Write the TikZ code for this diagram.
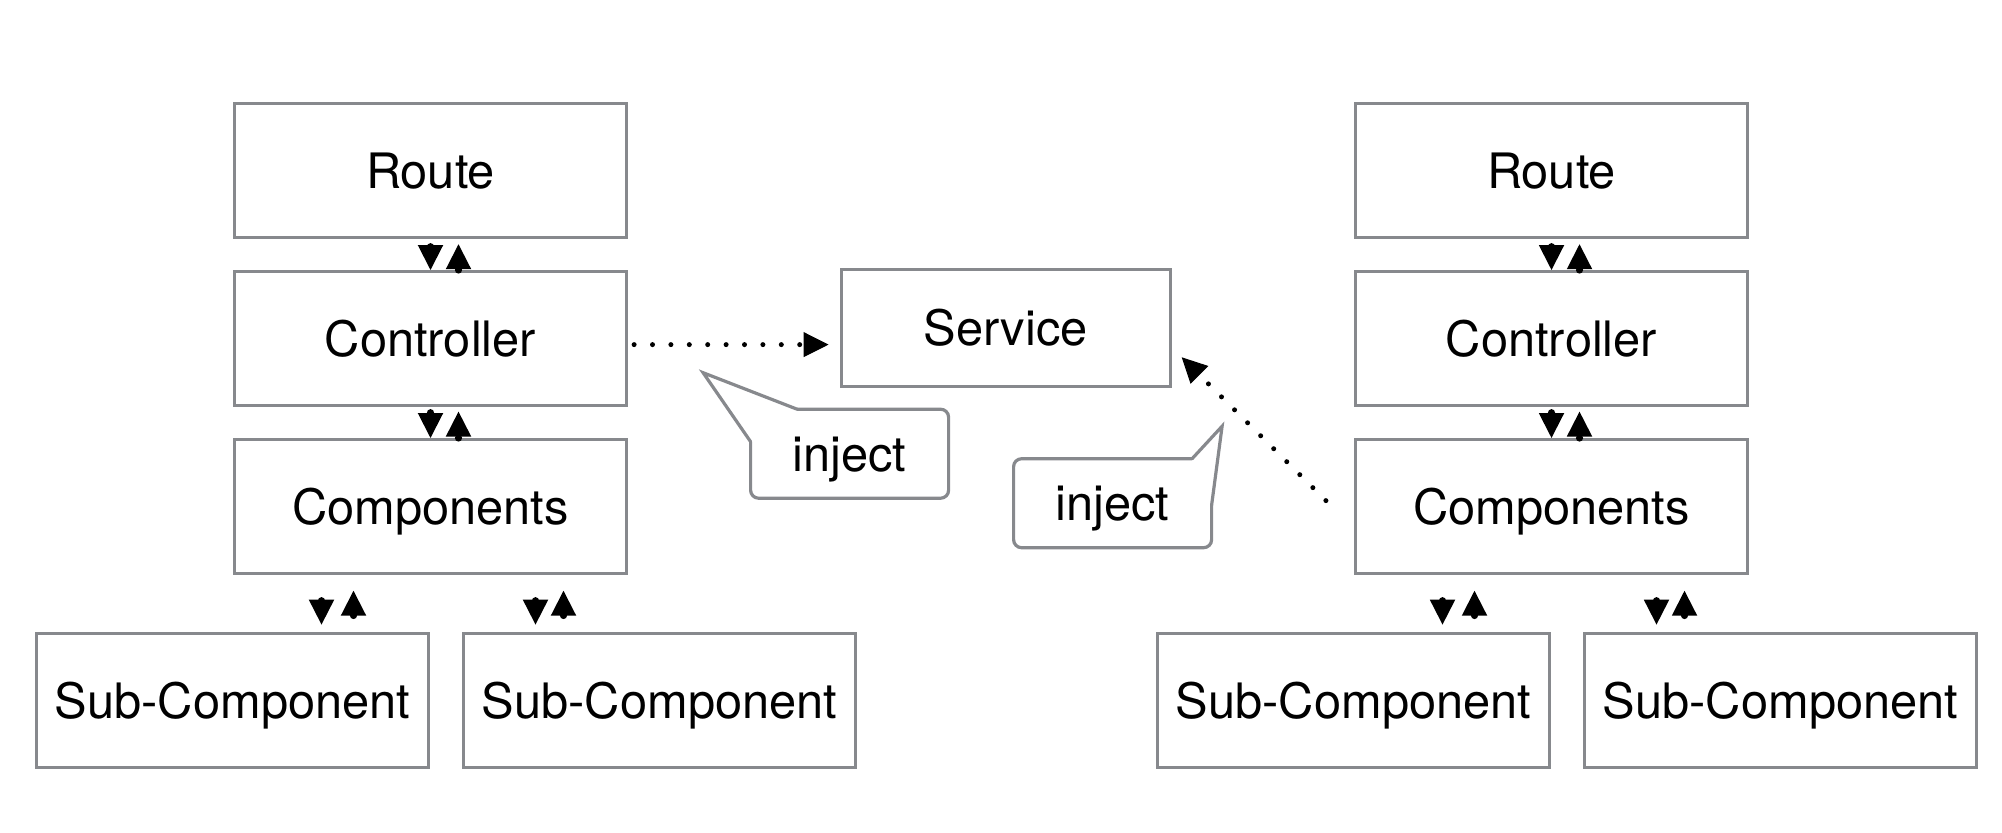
\documentclass[tikz,border=0pt]{standalone}
\usepackage{fontspec}
\setmainfont{TeX Gyre Heros}
\usepackage{xcolor}
\usetikzlibrary{arrows.meta, positioning, calc}
\definecolor{boxgray}{RGB}{135,137,141}

\begin{document}
\begin{tikzpicture}[node distance=15.4pt,
		main node/.style={rectangle,draw=boxgray,line width=1.6pt,inner sep=0pt,
			minimum width=196pt,minimum height=67pt,
			font=\fontsize{24.4pt}{29pt}\selectfont,text height=17.5pt,text depth=0pt},
		service node/.style={main node,minimum width=164.5pt,minimum height=58.5pt},
		note node/.style={inner sep=0pt,outer sep=0pt,minimum width=99pt,minimum height=44.5pt,
			font=\fontsize{24.4pt}{29pt}\selectfont,text height=17.5pt,text depth=0pt},
		bubble/.style={draw=boxgray,line width=1.6pt,line cap=round},
		link/.style={line width=1pt,{Circle[length=3.5pt]}-{Triangle[width=12.5pt,length=12.5pt]}},
		inject line/.style={line width=2.5pt,line cap=round,dash pattern=on 0pt off 9.2pt,
			-{Triangle[width=12.5pt,length=12.5pt,line width=0.5pt]}}]
		
		\useasboundingbox (0,0) rectangle (1001pt,-416pt);
		
		% left side
		\node[main node] (routeL) at (215.25pt,-85.3pt) {Route};
		\node[main node] (ctrlL) [below=of routeL] {Controller};
		\node[main node] (compL) [below=of ctrlL] {Components};
		\node[main node] (subL1) [below=28.4pt of compL, xshift=-99pt] {Sub-Component};
		\node[main node] (subL2) [right=15.9pt of subL1] {Sub-Component};
		
		% service
		\node[service node] (svc) [right=105.7pt of ctrlL, yshift=5.2pt] {Service};
		
		% right side
		\node[main node] (routeR) [right=362.9pt of routeL] {Route};
		\node[main node] (ctrlR) [below=of routeR] {Controller};
		\node[main node] (compR) [below=of ctrlR] {Components};
		\node[main node] (subR1) [below=28.4pt of compR, xshift=-99pt] {Sub-Component};
		\node[main node] (subR2) [right=15.9pt of subR1] {Sub-Component};
		
		% callouts
		\node[note node] (injL) at ($(svc)+(-78pt,-62.75pt)$) {inject};
		\node[note node] (injR) at ($(svc)+(53.5pt,-87.5pt)$) {inject};
		\coordinate (tipL) at ($(injL.north west)+(-23.75pt,18.25pt)$);
		\coordinate (tipR) at ($(injR.north east)+(5.25pt,16.25pt)$);
		
		\draw[bubble,rounded corners=4pt] ([xshift=23.25pt]injL.north west) -- (injL.north east)
			-- (injL.south east) -- (injL.south west) -- ([yshift=-16.25pt]injL.north west);
		\draw[bubble] ([yshift=-16.25pt]injL.north west) -- (tipL) -- ([xshift=23.25pt]injL.north west);
		
		\draw[bubble,rounded corners=4pt] ([yshift=-23.25pt]injR.north east) -- (injR.south east)
			-- (injR.south west) -- (injR.north west) -- ([xshift=-9.75pt]injR.north east);
		\draw[bubble] ([xshift=-9.75pt]injR.north east) -- (tipR) -- ([yshift=-23.25pt]injR.north east);
		
		% two-way links, left
		\draw[link,shorten <=2pt] (routeL.south) -- (ctrlL.north);
		\draw[link,shorten <=-1.75pt,shorten >=2.5pt] ([xshift=14pt]ctrlL.north) -- ([xshift=14pt]routeL.south);
		\draw[link,shorten <=1pt] (ctrlL.south) -- (compL.north);
		\draw[link,shorten <=-1.75pt,shorten >=2.2pt] ([xshift=14pt]compL.north) -- ([xshift=14pt]ctrlL.south);
		\draw[link,shorten <=11pt,shorten >=3.7pt] ([xshift=-54.5pt]compL.south) -- ([xshift=-54.5pt]compL.south |- subL1.north);
		\draw[link,shorten <=6.5pt,shorten >=7.75pt] ([xshift=-38.5pt]compL.south |- subL1.north) -- ([xshift=-38.5pt]compL.south);
		\draw[link,shorten <=11pt,shorten >=3.7pt] ([xshift=52.5pt]compL.south) -- ([xshift=52.5pt]compL.south |- subL2.north);
		\draw[link,shorten <=6.5pt,shorten >=7.75pt] ([xshift=66.5pt]compL.south |- subL2.north) -- ([xshift=66.5pt]compL.south);
		
		% two-way links, right
		\draw[link,shorten <=2pt] (routeR.south) -- (ctrlR.north);
		\draw[link,shorten <=-1.75pt,shorten >=2.5pt] ([xshift=14pt]ctrlR.north) -- ([xshift=14pt]routeR.south);
		\draw[link,shorten <=1pt] (ctrlR.south) -- (compR.north);
		\draw[link,shorten <=-1.75pt,shorten >=2.2pt] ([xshift=14pt]compR.north) -- ([xshift=14pt]ctrlR.south);
		\draw[link,shorten <=11pt,shorten >=3.7pt] ([xshift=-54.5pt]compR.south) -- ([xshift=-54.5pt]compR.south |- subR1.north);
		\draw[link,shorten <=6.5pt,shorten >=7.75pt] ([xshift=-38.5pt]compR.south |- subR1.north) -- ([xshift=-38.5pt]compR.south);
		\draw[link,shorten <=11pt,shorten >=3.7pt] ([xshift=52.5pt]compR.south) -- ([xshift=52.5pt]compR.south |- subR2.north);
		\draw[link,shorten <=6.5pt,shorten >=7.75pt] ([xshift=66.5pt]compR.south |- subR2.north) -- ([xshift=66.5pt]compR.south);
		
		% injection
		\draw[inject line,shorten <=3pt,shorten >=5.5pt] ([yshift=-3pt]ctrlL.east) -- ([yshift=-3pt]ctrlL.east -| svc.west);
		\draw[inject line] ([xshift=-14pt,yshift=3pt]compR.west) -- ([xshift=5pt,yshift=15.5pt]svc.south east);
		
	\end{tikzpicture}
\end{document}
